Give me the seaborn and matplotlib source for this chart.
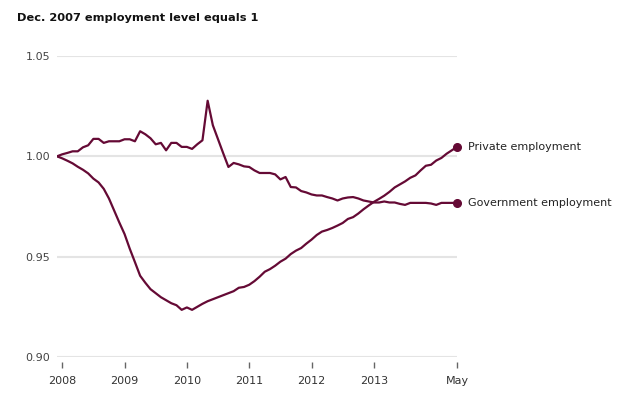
import numpy as np
import pandas as pd
import seaborn as sns
import matplotlib
matplotlib.use("Agg")
import matplotlib.pyplot as plt

# months since Dec 2007 (0 = Dec 2007, 77 = May 2014)
months = list(range(78))

private = [
    1.000, 0.999, 0.9978, 0.9965, 0.9948, 0.9933, 0.9915, 0.9889, 0.987, 0.9838,
    0.979, 0.973, 0.967, 0.9613, 0.954, 0.9473, 0.9405, 0.937, 0.9338, 0.9318,
    0.9298, 0.9283, 0.9268, 0.9258, 0.9235, 0.9247, 0.9235, 0.925, 0.9265, 0.9278,
    0.9288, 0.9298, 0.9308, 0.9318, 0.9328, 0.9345, 0.9349, 0.936, 0.9378, 0.940,
    0.9425, 0.9438, 0.9455, 0.9475, 0.949, 0.9513, 0.953, 0.9543, 0.9565, 0.9585,
    0.9608, 0.9625, 0.9633, 0.9643, 0.9655, 0.9668, 0.9688, 0.9697, 0.9715, 0.9736,
    0.9755, 0.9773, 0.9788, 0.9804, 0.9823, 0.9845, 0.986, 0.9875, 0.9893, 0.9905,
    0.993, 0.9953, 0.9958, 0.9979, 0.9992, 1.0013, 1.003, 1.0047,
]

government = [
    1.000, 1.001, 1.0017, 1.0025, 1.0025, 1.0045, 1.0055, 1.0087, 1.0087, 1.0067,
    1.0075, 1.0075, 1.0075, 1.0085, 1.0085, 1.0075, 1.0125, 1.011, 1.009, 1.006,
    1.0067, 1.003, 1.0067, 1.0067, 1.0047, 1.0047, 1.0037, 1.006, 1.008, 1.0277,
    1.0155, 1.0085, 1.0015, 0.9947, 0.9967, 0.996, 0.995, 0.9947, 0.993, 0.9917,
    0.9917, 0.9917, 0.991, 0.9885, 0.9897, 0.9847, 0.9845, 0.9827, 0.982, 0.981,
    0.9805, 0.9805, 0.9797, 0.979, 0.978, 0.979, 0.9795, 0.9797, 0.979, 0.978,
    0.9775, 0.977, 0.977, 0.9775, 0.977, 0.977, 0.9763, 0.9758, 0.9768, 0.9768,
    0.9768, 0.9768, 0.9765, 0.9758, 0.9768, 0.9768, 0.9768, 0.9768,
]

series_names = ["Private employment", "Government employment"]
tick_months = [1, 13, 25, 37, 49, 61, 77]
tick_labels = ["2008", "2009", "2010", "2011", "2012", "2013", "May"]
y_ticks = [0.90, 0.95, 1.00, 1.05]
title = "Dec. 2007 employment level equals 1"

color = "#650a35"

sns.set_style("white")
plt.rcParams['font.family'] = ['DejaVu Sans']

df = pd.DataFrame({
    "month": months * 2,
    "value": private + government,
    "series": [series_names[0]] * len(months) + [series_names[1]] * len(months),
})

fig = plt.figure(figsize=(6.28, 3.98), dpi=100)
ax = fig.add_axes([57 / 628, 1 - 357 / 398, 400 / 628, 301 / 398])

sns.lineplot(data=df, x="month", y="value", units="series", estimator=None,
             color=color, linewidth=1.6, ax=ax, legend=False)

# end markers + labels
for name, vals in zip(series_names, [private, government]):
    ax.plot(months[-1], vals[-1], "o", color=color, markersize=5.5, clip_on=False, zorder=5)
    ax.annotate(name, (months[-1], vals[-1]), xytext=(8, 0), textcoords="offset points",
                va="center", ha="left", fontsize=8, color="#222222")

ax.set_xlim(0, 77)
ax.set_ylim(0.90, 1.05)
ax.set_yticks(y_ticks)
ax.set_yticklabels([f"{v:.2f}" for v in y_ticks])
ax.set_xticks(tick_months)
ax.set_xticklabels(tick_labels)
ax.set_xlabel("")
ax.set_ylabel("")

ax.grid(axis="y", color="#e4e4e4", linewidth=1.5)
ax.grid(axis="x", visible=False)
ax.set_axisbelow(True)
for side in ["top", "right", "left"]:
    ax.spines[side].set_visible(False)
ax.spines["bottom"].set_position(("outward", 3.5))
ax.spines["bottom"].set_visible(False)

ax.tick_params(axis="y", left=False, length=0, pad=5, labelsize=8, labelcolor="#444444")
ax.tick_params(axis="x", bottom=True, length=4, width=1, color="#666666", pad=6,
               labelsize=8, labelcolor="#333333", direction="out")

fig.text(17 / 628, 1 - 18 / 398, title, fontsize=8.2, fontweight="bold",
         va="center", ha="left", color="#111111")

fig.savefig("out.png", dpi=100)
